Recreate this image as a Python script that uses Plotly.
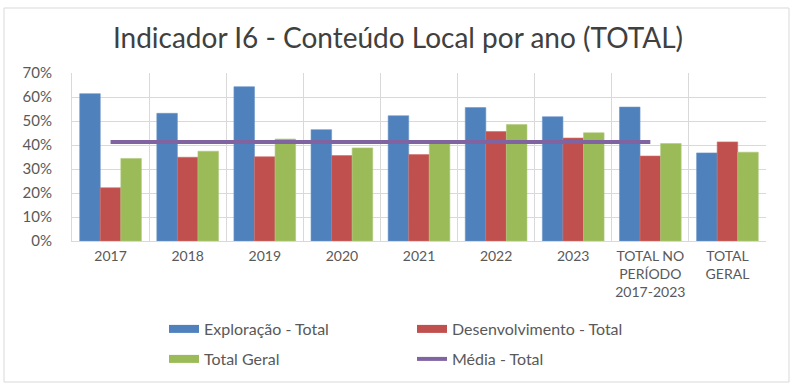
import plotly.graph_objects as go

categories = ["2017", "2018", "2019", "2020", "2021", "2022", "2023",
              "TOTAL NO<br>PERÍODO<br>2017-2023", "TOTAL<br>GERAL"]
exploracao = [0.614, 0.532, 0.643, 0.464, 0.522, 0.556, 0.518, 0.558, 0.367]
desenvolvimento = [0.222, 0.349, 0.351, 0.356, 0.360, 0.456, 0.429, 0.354, 0.413]
total_geral = [0.344, 0.374, 0.425, 0.388, 0.407, 0.485, 0.451, 0.406, 0.370]
media = [0.413, 0.413, 0.413, 0.413, 0.413, 0.413, 0.413, 0.413, None]

series_names = ["Exploração - Total", "Desenvolvimento - Total", "Total Geral", "Média - Total"]
colors = ["#4F81BD", "#C0504D", "#9BBB59", "#8064A2"]
edge_colors = ["#6C95C8", "#CC6E6B", "#AFC97A"]

FONT = "Lato"
TXT = "#595959"

fig = go.Figure()
for vals, name, col, edge in zip([exploracao, desenvolvimento, total_geral],
                                 series_names[:3], colors[:3], edge_colors):
    fig.add_trace(go.Bar(x=categories, y=vals, name=name, showlegend=False,
                         marker=dict(color=col, line=dict(color=edge, width=0.6))))
fig.add_trace(go.Scatter(x=categories, y=media, name=series_names[3], mode="lines",
                         line=dict(color=colors[3], width=4), showlegend=False))

# legend entries (wide swatches like the original)
legend_ids = ["legend", "legend", "legend2", "legend2"]
widths = [8, 8, 8, 4]
for name, col, lg, w in zip(series_names, colors, legend_ids, widths):
    fig.add_trace(go.Scatter(x=[None], y=[None], name=name, mode="lines",
                             line=dict(color=col, width=w), legend=lg, showlegend=True))

W, H = 800, 390
ml, mr, mt, mb = 72, 34, 73, 149
pw, ph = W - ml - mr, H - mt - mb

def px(x):
    return (x - ml) / pw

def py(y):
    return (H - mb - y) / ph

legend_common = dict(orientation="h", font=dict(family=FONT, size=16, color=TXT),
                     bgcolor="rgba(0,0,0,0)", entrywidth=203, entrywidthmode="pixels",
                     xanchor="left", yanchor="middle", traceorder="normal",
                     tracegroupgap=0)

fig.update_layout(
    width=W, height=H,
    margin=dict(l=ml, r=mr, t=mt, b=mb),
    paper_bgcolor="white", plot_bgcolor="white",
    title=dict(text="Indicador I6 - Conteúdo Local por ano (TOTAL)",
               x=398 / W, xanchor="center", xref="container", y=1 - 38 / H, yanchor="middle",
               yref="container",
               font=dict(family=FONT, size=28, color="#404040")),
    barmode="group", bargap=0.2, bargroupgap=0,
    font=dict(family=FONT, color=TXT),
    xaxis=dict(type="category", tickson="boundaries", showgrid=True, gridcolor="#D9D9D9",
               gridwidth=1, showline=True, linecolor="#D9D9D9", mirror=False,
               ticks="", tickfont=dict(family=FONT, size=14, color=TXT), tickangle=0,
               ticklabelstandoff=2, fixedrange=True),
    yaxis=dict(range=[0, 0.7], dtick=0.1, tickformat=".0%", showgrid=True,
               gridcolor="#D9D9D9", gridwidth=1, zeroline=False, showline=True,
               linecolor="#D9D9D9", ticks="",
               tickfont=dict(family=FONT, size=15, color=TXT),
               ticklabelstandoff=16, fixedrange=True),
    legend=dict(x=px(164), y=py(329), **legend_common),
    legend2=dict(x=px(164), y=py(359), **legend_common),
    showlegend=True,
    shapes=[dict(type="rect", xref="paper", yref="paper",
                 x0=px(4), x1=px(789), y0=py(382), y1=py(8),
                 line=dict(color="#D9D9D9", width=1), layer="below")],
)

fig.write_html("out.html", config={"displayModeBar": False},
               post_script="document.body.style.margin='0';")
